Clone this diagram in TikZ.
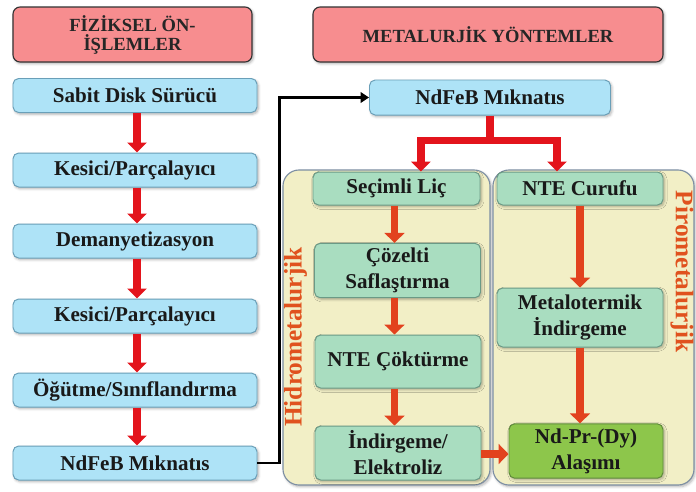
\documentclass[tikz,border=0pt]{standalone}
\usepackage{fontspec}
\setmainfont{Liberation Serif}
\usetikzlibrary{arrows.meta,positioning,calc,shadows.blur}
\definecolor{titlepink}{HTML}{F78D8F}
\definecolor{stepblue}{HTML}{AEE3F7}
\definecolor{stepblueline}{HTML}{6A9FB8}
\definecolor{stepgreen}{HTML}{A9DDC0}
\definecolor{stepgreenline}{HTML}{6B9A86}
\definecolor{alloygreen}{HTML}{8DC64B}
\definecolor{alloygreenline}{HTML}{5E8A3A}
\definecolor{panelyellow}{HTML}{F2EFC6}
\definecolor{panelline}{HTML}{7D8FA3}
\definecolor{flowred}{HTML}{E3141C}
\definecolor{routeorange}{HTML}{E2421E}
\definecolor{sidelabel}{HTML}{E0521E}
\tikzset{
  softshadow/.style={blur shadow={shadow xshift=1pt, shadow yshift=-1.2pt,
                     shadow blur steps=5, shadow opacity=30}},
  head/.style={rounded corners=5pt, draw=black!80, line width=0.8pt,
               fill=titlepink, align=center, text=black!85, softshadow,
               font=\fontsize{13.2}{13.5}\selectfont\bfseries},
  sbox/.style={rounded corners=4pt, draw=#1line, line width=0.7pt,
               fill=#1, align=center, text=black!90, softshadow,
               font=\fontsize{15}{18.5}\selectfont\bfseries},
  panel/.style={rounded corners=4mm, draw=panelline, line width=0.8pt,
                fill=panelyellow, softshadow},
  sidetag/.style={font=\fontsize{18}{18}\selectfont\bfseries, text=sidelabel},
  redflow/.style={draw=flowred, line width=5pt,
                  -{Triangle[length=7pt,width=13.5pt]}},
  orflow/.style={draw=routeorange, line width=5.5pt,
                 -{Triangle[length=7pt,width=14pt]}},
  link/.style={draw=black, line width=2pt,
               -{Triangle[length=6pt,width=7.5pt]}},
}

\begin{document}
\begin{tikzpicture}[x=0.25mm, y=0.25mm]
\useasboundingbox (0,0) rectangle (696,-491);

% ---------------- headings -----------------------------------------------
\node[head, minimum width=59.75mm, minimum height=13.75mm] at (132.5,-34.5)
  (physhead) {FİZİKSEL ÖN-\\İŞLEMLER};
\node[head, minimum width=87.5mm, minimum height=13.75mm] at (488,-34.5)
  (methead) {METALURJİK YÖNTEMLER};

% ---------------- physical pre-treatment chain ----------------------------
\node[sbox=stepblue, minimum width=61mm, minimum height=8.5mm]
  at (135,-95.5) (hdd) {Sabit Disk Sürücü};
\node[sbox=stepblue, minimum width=61mm, minimum height=8.5mm]
  at (135,-170) (shred1) {Kesici/Parçalayıcı};
\node[sbox=stepblue, minimum width=61mm, minimum height=8.5mm]
  at (135,-241) (demag) {Demanyetizasyon};
\node[sbox=stepblue, minimum width=61mm, minimum height=8.5mm]
  at (135,-316) (shred2) {Kesici/Parçalayıcı};
\node[sbox=stepblue, minimum width=61mm, minimum height=8.5mm]
  at (135,-390) (mill) {Öğütme/Sınıflandırma};
\node[sbox=stepblue, minimum width=61mm, minimum height=8.5mm]
  at (135,-463) (magL) {NdFeB Mıknatıs};
\foreach \a/\b in {hdd/shred1,shred1/demag,demag/shred2,shred2/mill,mill/magL}
  \draw[redflow] ([xshift=0.5mm]\a.south) -- ([xshift=0.5mm]\b.north);

% ---------------- magnet into the metallurgical routes --------------------
\node[sbox=stepblue, minimum width=60.25mm, minimum height=8.75mm]
  at (490,-97.5) (magR) {NdFeB Mıknatıs};
\draw[link] (magL.east) -- ++(22,0) |- (magR.west);

\node[panel, minimum width=51.75mm, minimum height=78.75mm]
  at (386.5,-327.5) (hydro) {};
\node[panel, minimum width=50.25mm, minimum height=78.75mm]
  at (593.5,-327.5) (pyro) {};
\node[sidetag, rotate=90] at (295.5,-337) (hydrotag) {Hidrometalurjik};
\node[sidetag, rotate=-90] at (682,-271.5) (pyrotag) {Pirometalurjik};

% hydrometallurgy
\node[sbox=stepgreen, minimum width=41.75mm, minimum height=8.25mm]
  at (396.5,-188.5) (leach) {Seçimli Liç};
\node[sbox=stepgreen, minimum width=41.5mm, minimum height=13.25mm]
  at (397.5,-270.5) (purify) {Çözelti\\Saflaştırma};
\node[sbox=stepgreen, minimum width=41.5mm, minimum height=13.25mm]
  at (398,-361.5) (precip) {NTE Çöktürme};
\node[sbox=stepgreen, minimum width=41.5mm, minimum height=13.5mm]
  at (398,-453) (reduce) {İndirgeme/\\Elektroliz};

% pyrometallurgy
\node[sbox=stepgreen, minimum width=41.5mm, minimum height=8.25mm]
  at (580,-188.5) (slag) {NTE Curufu};
\node[sbox=stepgreen, minimum width=41.5mm, minimum height=14.75mm]
  at (580,-317.5) (metred) {Metalotermik\\İndirgeme};
\node[sbox=alloygreen, minimum width=38.5mm, minimum height=13mm]
  at (586,-451) (alloy) {Nd-Pr-(Dy)\\Alaşımı};

% ---------------- red flow arrows -----------------------------------------
\draw[draw=flowred, line width=5.5pt] (magR.south) -- ++(0,-25) coordinate (fork);
\draw[redflow, line width=5.5pt] (fork) -| ([xshift=6.1mm]leach.north);
\draw[redflow, line width=5.5pt] (fork) -| ([xshift=-5.75mm]slag.north);

\draw[orflow] ([xshift=-0.5mm]leach.south) -- ([xshift=-0.5mm]leach.south |- purify.north);
\draw[orflow] ([xshift=-0.5mm]leach.south |- purify.south) -- ([xshift=-0.5mm]leach.south |- precip.north);
\draw[orflow] ([xshift=-0.5mm]leach.south |- precip.south) -- ([xshift=-0.5mm]leach.south |- reduce.north);
\draw[orflow] (slag.south) -- (metred.north);
\draw[orflow] (metred.south) -- (metred.south |- alloy.north);
\draw[orflow] ([yshift=-0.25mm]reduce.east) -- ([yshift=-0.25mm]reduce.east -| alloy.west);
\end{tikzpicture}
\end{document}
